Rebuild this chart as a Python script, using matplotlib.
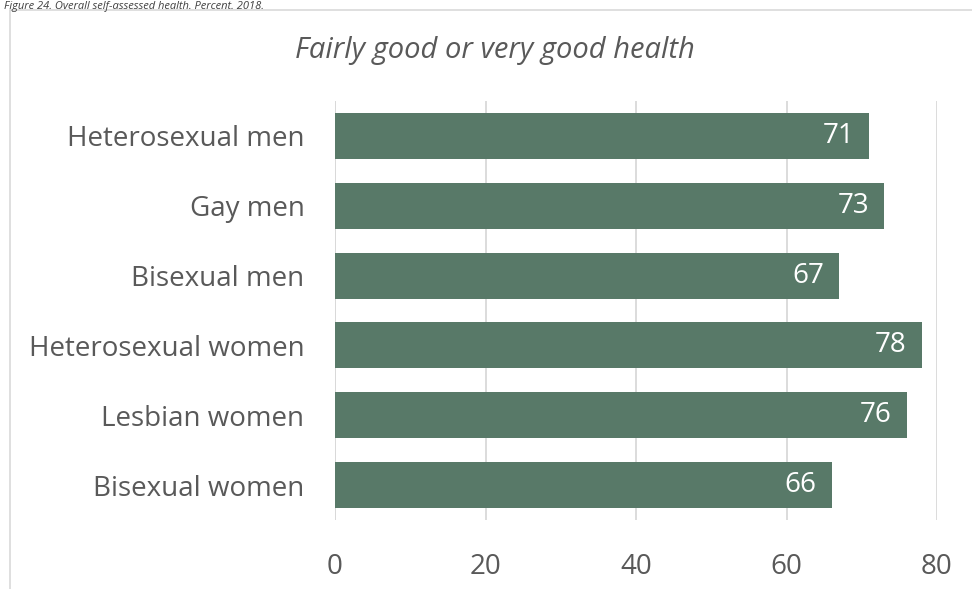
import matplotlib
matplotlib.use("Agg")
import matplotlib.pyplot as plt
from matplotlib.patches import Rectangle

categories = ["Heterosexual men", "Gay men", "Bisexual men",
              "Heterosexual women", "Lesbian women", "Bisexual women"]
values = [71, 73, 67, 78, 76, 66]
x_ticks = [0, 20, 40, 60, 80]

plt.rcParams['font.family'] = ['Open Sans', 'DejaVu Sans']

W, H = 972, 589
fig = plt.figure(figsize=(W / 100, H / 100), dpi=100)

# chart frame
fig.patches.append(Rectangle((10 / W, -0.1), 1.0, 1 - 10 / H + 0.1,
                             transform=fig.transFigure, fill=False,
                             edgecolor="#d9d9d9", linewidth=1.2))

# caption
fig.text(4 / W, 1 - 0.5 / H, "Figure 24. Overall self-assessed health. Percent. 2018.",
         fontsize=8, style="italic", color="#404040", ha="left", va="top")

ax = fig.add_axes([335 / W, 1 - 520 / H, (937 - 335) / W, (520 - 101) / H])
text_color = "#595959"
bar_color = "#587968"

ypos = list(range(len(categories)))
ax.barh(ypos, values, height=0.66, color=bar_color, zorder=3)
for y, v in zip(ypos, values):
    ax.text(v - 2.0, y, f"{v}", color="white", fontsize=20,
            ha="right", va="center", zorder=4)

ax.set_xlim(0, 80)
ax.set_ylim(len(categories) - 0.5, -0.5)
ax.set_yticks(ypos)
ax.set_yticklabels(categories, fontsize=20, color=text_color)
ax.set_xticks(x_ticks)
ax.set_xticklabels([str(t) for t in x_ticks], fontsize=20, color=text_color)
ax.tick_params(axis="both", length=0)
ax.tick_params(axis="x", pad=24)
ax.tick_params(axis="y", pad=22)
ax.grid(axis="x", color="#d9d9d9", linewidth=1.3, zorder=0)
for s in ax.spines.values():
    s.set_visible(False)
ax.axvline(0, color="#d9d9d9", linewidth=1.3, zorder=2)

ax.set_title("Fairly good or very good health", fontsize=21, style="italic",
             color=text_color, pad=31, x=(495 - 335) / (937 - 335))

fig.savefig("out.png", dpi=100)
